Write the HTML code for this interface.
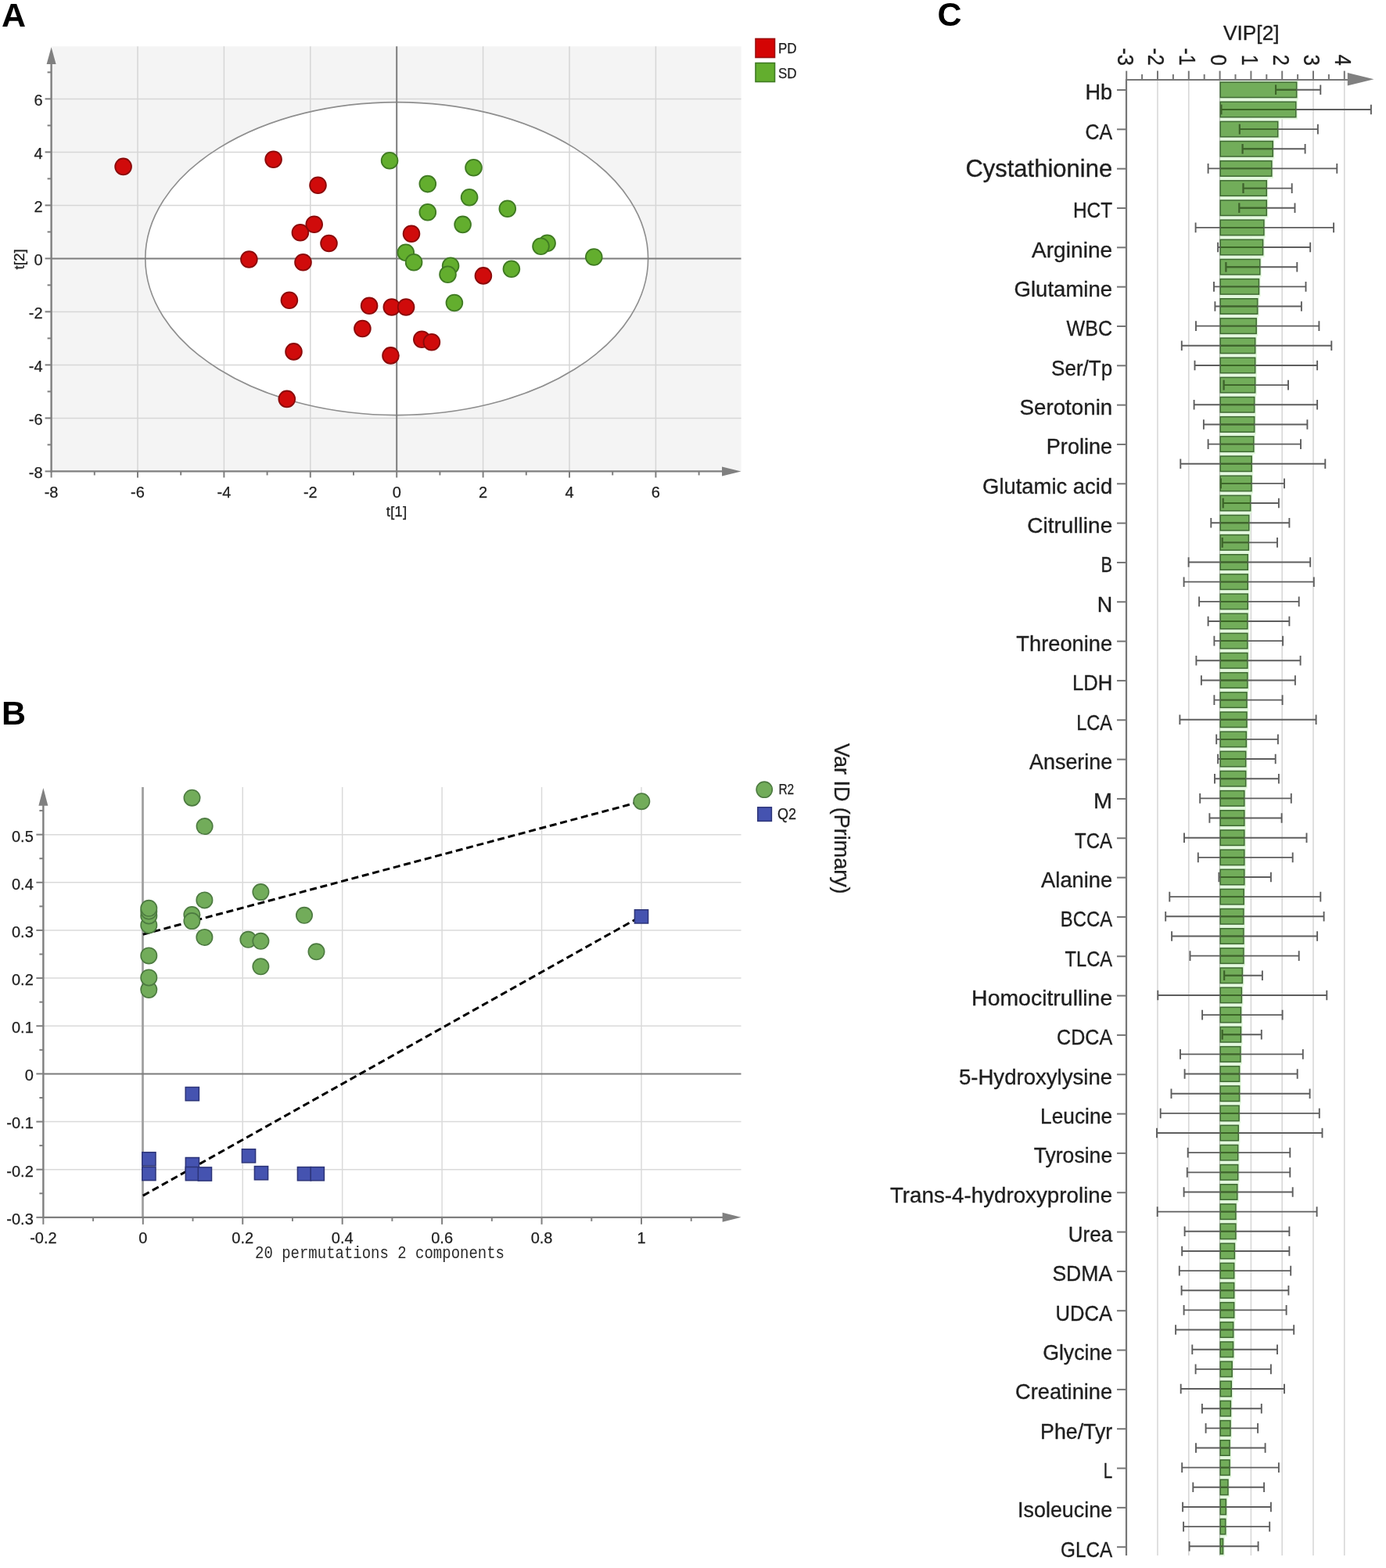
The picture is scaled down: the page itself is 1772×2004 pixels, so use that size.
<!DOCTYPE html>
<html><head><meta charset="utf-8"><title>Figure</title>
<style>
html,body{margin:0;padding:0;background:#fff;}
body{width:1772px;height:2004px;overflow:hidden;}
svg{display:block;}
</style></head>
<body>
<svg width="1772" height="2004" viewBox="0 0 1772 2004">
<rect width="1772" height="2004" fill="#fff"/>
<g id="panelA">
<rect x="65.6" y="59.3" width="881.9" height="543.1" fill="#f4f4f4"/>
<ellipse cx="507.2" cy="330.6" rx="321.4" ry="200" fill="#ffffff"/>
<line x1="176" y1="59.3" x2="176" y2="602.4" stroke="#d6d6d6" stroke-width="1.5"/>
<line x1="286.4" y1="59.3" x2="286.4" y2="602.4" stroke="#d6d6d6" stroke-width="1.5"/>
<line x1="396.8" y1="59.3" x2="396.8" y2="602.4" stroke="#d6d6d6" stroke-width="1.5"/>
<line x1="617.6" y1="59.3" x2="617.6" y2="602.4" stroke="#d6d6d6" stroke-width="1.5"/>
<line x1="728" y1="59.3" x2="728" y2="602.4" stroke="#d6d6d6" stroke-width="1.5"/>
<line x1="838.4" y1="59.3" x2="838.4" y2="602.4" stroke="#d6d6d6" stroke-width="1.5"/>
<line x1="65.6" y1="534.4" x2="947.5" y2="534.4" stroke="#d6d6d6" stroke-width="1.5"/>
<line x1="65.6" y1="466.4" x2="947.5" y2="466.4" stroke="#d6d6d6" stroke-width="1.5"/>
<line x1="65.6" y1="398.4" x2="947.5" y2="398.4" stroke="#d6d6d6" stroke-width="1.5"/>
<line x1="65.6" y1="262.4" x2="947.5" y2="262.4" stroke="#d6d6d6" stroke-width="1.5"/>
<line x1="65.6" y1="194.4" x2="947.5" y2="194.4" stroke="#d6d6d6" stroke-width="1.5"/>
<line x1="65.6" y1="126.4" x2="947.5" y2="126.4" stroke="#d6d6d6" stroke-width="1.5"/>
<ellipse cx="507.2" cy="330.6" rx="321.4" ry="200" fill="none" stroke="#8e8e8e" stroke-width="1.6"/>
<line x1="507.2" y1="59.3" x2="507.2" y2="602.4" stroke="#7c7c7c" stroke-width="2"/>
<line x1="65.6" y1="330.4" x2="947.5" y2="330.4" stroke="#7c7c7c" stroke-width="2"/>
<line x1="65.6" y1="603.4" x2="65.6" y2="75" stroke="#7f7f7f" stroke-width="2.4"/>
<line x1="64.6" y1="602.4" x2="930" y2="602.4" stroke="#7f7f7f" stroke-width="2.4"/>
<polygon points="65.6,60.3 59.6,82 71.6,82" fill="#808080"/>
<polygon points="947.5,602.4 923,596.4 923,608.4" fill="#808080"/>
<line x1="57.6" y1="602.4" x2="65.6" y2="602.4" stroke="#7f7f7f" stroke-width="2"/>
<line x1="65.6" y1="602.4" x2="65.6" y2="610.4" stroke="#7f7f7f" stroke-width="2"/>
<line x1="60.6" y1="568.4" x2="65.6" y2="568.4" stroke="#7f7f7f" stroke-width="2"/>
<line x1="120.8" y1="602.4" x2="120.8" y2="607.4" stroke="#7f7f7f" stroke-width="2"/>
<line x1="57.6" y1="534.4" x2="65.6" y2="534.4" stroke="#7f7f7f" stroke-width="2"/>
<line x1="176" y1="602.4" x2="176" y2="610.4" stroke="#7f7f7f" stroke-width="2"/>
<line x1="60.6" y1="500.4" x2="65.6" y2="500.4" stroke="#7f7f7f" stroke-width="2"/>
<line x1="231.2" y1="602.4" x2="231.2" y2="607.4" stroke="#7f7f7f" stroke-width="2"/>
<line x1="57.6" y1="466.4" x2="65.6" y2="466.4" stroke="#7f7f7f" stroke-width="2"/>
<line x1="286.4" y1="602.4" x2="286.4" y2="610.4" stroke="#7f7f7f" stroke-width="2"/>
<line x1="60.6" y1="432.4" x2="65.6" y2="432.4" stroke="#7f7f7f" stroke-width="2"/>
<line x1="341.6" y1="602.4" x2="341.6" y2="607.4" stroke="#7f7f7f" stroke-width="2"/>
<line x1="57.6" y1="398.4" x2="65.6" y2="398.4" stroke="#7f7f7f" stroke-width="2"/>
<line x1="396.8" y1="602.4" x2="396.8" y2="610.4" stroke="#7f7f7f" stroke-width="2"/>
<line x1="60.6" y1="364.4" x2="65.6" y2="364.4" stroke="#7f7f7f" stroke-width="2"/>
<line x1="452" y1="602.4" x2="452" y2="607.4" stroke="#7f7f7f" stroke-width="2"/>
<line x1="57.6" y1="330.4" x2="65.6" y2="330.4" stroke="#7f7f7f" stroke-width="2"/>
<line x1="507.2" y1="602.4" x2="507.2" y2="610.4" stroke="#7f7f7f" stroke-width="2"/>
<line x1="60.6" y1="296.4" x2="65.6" y2="296.4" stroke="#7f7f7f" stroke-width="2"/>
<line x1="562.4" y1="602.4" x2="562.4" y2="607.4" stroke="#7f7f7f" stroke-width="2"/>
<line x1="57.6" y1="262.4" x2="65.6" y2="262.4" stroke="#7f7f7f" stroke-width="2"/>
<line x1="617.6" y1="602.4" x2="617.6" y2="610.4" stroke="#7f7f7f" stroke-width="2"/>
<line x1="60.6" y1="228.4" x2="65.6" y2="228.4" stroke="#7f7f7f" stroke-width="2"/>
<line x1="672.8" y1="602.4" x2="672.8" y2="607.4" stroke="#7f7f7f" stroke-width="2"/>
<line x1="57.6" y1="194.4" x2="65.6" y2="194.4" stroke="#7f7f7f" stroke-width="2"/>
<line x1="728" y1="602.4" x2="728" y2="610.4" stroke="#7f7f7f" stroke-width="2"/>
<line x1="60.6" y1="160.4" x2="65.6" y2="160.4" stroke="#7f7f7f" stroke-width="2"/>
<line x1="783.2" y1="602.4" x2="783.2" y2="607.4" stroke="#7f7f7f" stroke-width="2"/>
<line x1="57.6" y1="126.4" x2="65.6" y2="126.4" stroke="#7f7f7f" stroke-width="2"/>
<line x1="838.4" y1="602.4" x2="838.4" y2="610.4" stroke="#7f7f7f" stroke-width="2"/>
<line x1="60.6" y1="92.4" x2="65.6" y2="92.4" stroke="#7f7f7f" stroke-width="2"/>
<line x1="893.6" y1="602.4" x2="893.6" y2="607.4" stroke="#7f7f7f" stroke-width="2"/>
<g font-family='"Liberation Sans", Arial, sans-serif' font-size="19" fill="#1e1e1e" stroke="#1e1e1e" stroke-width="0.25">
<text x="54.6" y="611" text-anchor="end" font-size="20">-8</text>
<text x="65.6" y="635.8" text-anchor="middle" font-size="20">-8</text>
<text x="54.6" y="543" text-anchor="end" font-size="20">-6</text>
<text x="176" y="635.8" text-anchor="middle" font-size="20">-6</text>
<text x="54.6" y="475" text-anchor="end" font-size="20">-4</text>
<text x="286.4" y="635.8" text-anchor="middle" font-size="20">-4</text>
<text x="54.6" y="407" text-anchor="end" font-size="20">-2</text>
<text x="396.8" y="635.8" text-anchor="middle" font-size="20">-2</text>
<text x="54.6" y="339" text-anchor="end" font-size="20">0</text>
<text x="507.2" y="635.8" text-anchor="middle" font-size="20">0</text>
<text x="54.6" y="271" text-anchor="end" font-size="20">2</text>
<text x="617.6" y="635.8" text-anchor="middle" font-size="20">2</text>
<text x="54.6" y="203" text-anchor="end" font-size="20">4</text>
<text x="728" y="635.8" text-anchor="middle" font-size="20">4</text>
<text x="54.6" y="135" text-anchor="end" font-size="20">6</text>
<text x="838.4" y="635.8" text-anchor="middle" font-size="20">6</text>
<text x="507" y="659.5" text-anchor="middle">t[1]</text>
<text transform="translate(31,331.3) rotate(-90)" text-anchor="middle">t[2]</text>
</g>
<circle cx="157.6" cy="212.9" r="10.4" fill="#d00b0b" stroke="#8a0a0a" stroke-width="1.8"/>
<circle cx="349.6" cy="203.8" r="10.4" fill="#d00b0b" stroke="#8a0a0a" stroke-width="1.8"/>
<circle cx="406.5" cy="236.8" r="10.4" fill="#d00b0b" stroke="#8a0a0a" stroke-width="1.8"/>
<circle cx="383.9" cy="297.2" r="10.4" fill="#d00b0b" stroke="#8a0a0a" stroke-width="1.8"/>
<circle cx="401.7" cy="286.8" r="10.4" fill="#d00b0b" stroke="#8a0a0a" stroke-width="1.8"/>
<circle cx="420.5" cy="311" r="10.4" fill="#d00b0b" stroke="#8a0a0a" stroke-width="1.8"/>
<circle cx="318.4" cy="331.5" r="10.4" fill="#d00b0b" stroke="#8a0a0a" stroke-width="1.8"/>
<circle cx="387.5" cy="335.3" r="10.4" fill="#d00b0b" stroke="#8a0a0a" stroke-width="1.8"/>
<circle cx="369.9" cy="383.8" r="10.4" fill="#d00b0b" stroke="#8a0a0a" stroke-width="1.8"/>
<circle cx="472.1" cy="390.7" r="10.4" fill="#d00b0b" stroke="#8a0a0a" stroke-width="1.8"/>
<circle cx="500.8" cy="392.5" r="10.4" fill="#d00b0b" stroke="#8a0a0a" stroke-width="1.8"/>
<circle cx="519.1" cy="392.5" r="10.4" fill="#d00b0b" stroke="#8a0a0a" stroke-width="1.8"/>
<circle cx="526" cy="298.8" r="10.4" fill="#d00b0b" stroke="#8a0a0a" stroke-width="1.8"/>
<circle cx="617.9" cy="352.4" r="10.4" fill="#d00b0b" stroke="#8a0a0a" stroke-width="1.8"/>
<circle cx="463.4" cy="420" r="10.4" fill="#d00b0b" stroke="#8a0a0a" stroke-width="1.8"/>
<circle cx="539.3" cy="433.7" r="10.4" fill="#d00b0b" stroke="#8a0a0a" stroke-width="1.8"/>
<circle cx="551.9" cy="437.3" r="10.4" fill="#d00b0b" stroke="#8a0a0a" stroke-width="1.8"/>
<circle cx="375.5" cy="449.4" r="10.4" fill="#d00b0b" stroke="#8a0a0a" stroke-width="1.8"/>
<circle cx="499.5" cy="454.4" r="10.4" fill="#d00b0b" stroke="#8a0a0a" stroke-width="1.8"/>
<circle cx="366.8" cy="509.9" r="10.4" fill="#d00b0b" stroke="#8a0a0a" stroke-width="1.8"/>
<circle cx="498.1" cy="205.3" r="10.4" fill="#63ae2e" stroke="#3f7a22" stroke-width="1.8"/>
<circle cx="605.5" cy="214.3" r="10.4" fill="#63ae2e" stroke="#3f7a22" stroke-width="1.8"/>
<circle cx="546.8" cy="235.1" r="10.4" fill="#63ae2e" stroke="#3f7a22" stroke-width="1.8"/>
<circle cx="600.1" cy="252.2" r="10.4" fill="#63ae2e" stroke="#3f7a22" stroke-width="1.8"/>
<circle cx="648.8" cy="266.8" r="10.4" fill="#63ae2e" stroke="#3f7a22" stroke-width="1.8"/>
<circle cx="546.8" cy="271.2" r="10.4" fill="#63ae2e" stroke="#3f7a22" stroke-width="1.8"/>
<circle cx="591.6" cy="286.9" r="10.4" fill="#63ae2e" stroke="#3f7a22" stroke-width="1.8"/>
<circle cx="699.6" cy="310.8" r="10.4" fill="#63ae2e" stroke="#3f7a22" stroke-width="1.8"/>
<circle cx="691.5" cy="314.7" r="10.4" fill="#63ae2e" stroke="#3f7a22" stroke-width="1.8"/>
<circle cx="759.3" cy="328.5" r="10.4" fill="#63ae2e" stroke="#3f7a22" stroke-width="1.8"/>
<circle cx="518.8" cy="322.7" r="10.4" fill="#63ae2e" stroke="#3f7a22" stroke-width="1.8"/>
<circle cx="529.1" cy="335.3" r="10.4" fill="#63ae2e" stroke="#3f7a22" stroke-width="1.8"/>
<circle cx="576.1" cy="339.8" r="10.4" fill="#63ae2e" stroke="#3f7a22" stroke-width="1.8"/>
<circle cx="572.5" cy="350.7" r="10.4" fill="#63ae2e" stroke="#3f7a22" stroke-width="1.8"/>
<circle cx="653.9" cy="343.7" r="10.4" fill="#63ae2e" stroke="#3f7a22" stroke-width="1.8"/>
<circle cx="580.9" cy="387" r="10.4" fill="#63ae2e" stroke="#3f7a22" stroke-width="1.8"/>
<rect x="966" y="49.5" width="24.5" height="24" fill="#d40404" stroke="#9a1010" stroke-width="1.6"/>
<rect x="966" y="80.5" width="24.5" height="24" fill="#63ae2e" stroke="#3f7a22" stroke-width="1.6"/>
<g font-family='"Liberation Sans", Arial, sans-serif' font-size="18.5" fill="#1e1e1e" stroke="#1e1e1e" stroke-width="0.25">
<text x="995" y="68.4" textLength="23.6" lengthAdjust="spacingAndGlyphs">PD</text>
<text x="995" y="100" textLength="23.6" lengthAdjust="spacingAndGlyphs">SD</text>
</g>
</g>
<g id="panelB">
<line x1="310.24" y1="1006" x2="310.24" y2="1555.85" stroke="#dadada" stroke-width="1.5"/>
<line x1="437.68" y1="1006" x2="437.68" y2="1555.85" stroke="#dadada" stroke-width="1.5"/>
<line x1="565.12" y1="1006" x2="565.12" y2="1555.85" stroke="#dadada" stroke-width="1.5"/>
<line x1="692.56" y1="1006" x2="692.56" y2="1555.85" stroke="#dadada" stroke-width="1.5"/>
<line x1="820" y1="1006" x2="820" y2="1555.85" stroke="#dadada" stroke-width="1.5"/>
<line x1="55.36" y1="1494.7" x2="947.5" y2="1494.7" stroke="#dadada" stroke-width="1.5"/>
<line x1="55.36" y1="1433.55" x2="947.5" y2="1433.55" stroke="#dadada" stroke-width="1.5"/>
<line x1="55.36" y1="1311.25" x2="947.5" y2="1311.25" stroke="#dadada" stroke-width="1.5"/>
<line x1="55.36" y1="1250.1" x2="947.5" y2="1250.1" stroke="#dadada" stroke-width="1.5"/>
<line x1="55.36" y1="1188.95" x2="947.5" y2="1188.95" stroke="#dadada" stroke-width="1.5"/>
<line x1="55.36" y1="1127.8" x2="947.5" y2="1127.8" stroke="#dadada" stroke-width="1.5"/>
<line x1="55.36" y1="1066.65" x2="947.5" y2="1066.65" stroke="#dadada" stroke-width="1.5"/>
<line x1="182.5" y1="1006" x2="182.5" y2="1555.85" stroke="#a0a0a0" stroke-width="2.8"/>
<line x1="55.36" y1="1372.4" x2="947.5" y2="1372.4" stroke="#7c7c7c" stroke-width="2"/>
<line x1="55.36" y1="1556.85" x2="55.36" y2="1022" stroke="#7f7f7f" stroke-width="2.4"/>
<line x1="54.36" y1="1555.85" x2="930" y2="1555.85" stroke="#7f7f7f" stroke-width="2.4"/>
<polygon points="55.36,1007 49.36,1029.8 61.36,1029.8" fill="#808080"/>
<polygon points="947.5,1555.85 923.6,1549.85 923.6,1561.85" fill="#808080"/>
<line x1="46.36" y1="1555.85" x2="55.36" y2="1555.85" stroke="#7f7f7f" stroke-width="2"/>
<line x1="50.36" y1="1525.28" x2="55.36" y2="1525.28" stroke="#7f7f7f" stroke-width="2"/>
<line x1="46.36" y1="1494.7" x2="55.36" y2="1494.7" stroke="#7f7f7f" stroke-width="2"/>
<line x1="50.36" y1="1464.12" x2="55.36" y2="1464.12" stroke="#7f7f7f" stroke-width="2"/>
<line x1="46.36" y1="1433.55" x2="55.36" y2="1433.55" stroke="#7f7f7f" stroke-width="2"/>
<line x1="50.36" y1="1402.98" x2="55.36" y2="1402.98" stroke="#7f7f7f" stroke-width="2"/>
<line x1="46.36" y1="1372.4" x2="55.36" y2="1372.4" stroke="#7f7f7f" stroke-width="2"/>
<line x1="50.36" y1="1341.83" x2="55.36" y2="1341.83" stroke="#7f7f7f" stroke-width="2"/>
<line x1="46.36" y1="1311.25" x2="55.36" y2="1311.25" stroke="#7f7f7f" stroke-width="2"/>
<line x1="50.36" y1="1280.68" x2="55.36" y2="1280.68" stroke="#7f7f7f" stroke-width="2"/>
<line x1="46.36" y1="1250.1" x2="55.36" y2="1250.1" stroke="#7f7f7f" stroke-width="2"/>
<line x1="50.36" y1="1219.53" x2="55.36" y2="1219.53" stroke="#7f7f7f" stroke-width="2"/>
<line x1="46.36" y1="1188.95" x2="55.36" y2="1188.95" stroke="#7f7f7f" stroke-width="2"/>
<line x1="50.36" y1="1158.38" x2="55.36" y2="1158.38" stroke="#7f7f7f" stroke-width="2"/>
<line x1="46.36" y1="1127.8" x2="55.36" y2="1127.8" stroke="#7f7f7f" stroke-width="2"/>
<line x1="50.36" y1="1097.23" x2="55.36" y2="1097.23" stroke="#7f7f7f" stroke-width="2"/>
<line x1="46.36" y1="1066.65" x2="55.36" y2="1066.65" stroke="#7f7f7f" stroke-width="2"/>
<line x1="50.36" y1="1036.08" x2="55.36" y2="1036.08" stroke="#7f7f7f" stroke-width="2"/>
<line x1="55.36" y1="1555.85" x2="55.36" y2="1564.85" stroke="#7f7f7f" stroke-width="2"/>
<line x1="119.08" y1="1555.85" x2="119.08" y2="1560.85" stroke="#7f7f7f" stroke-width="2"/>
<line x1="182.8" y1="1555.85" x2="182.8" y2="1564.85" stroke="#7f7f7f" stroke-width="2"/>
<line x1="246.52" y1="1555.85" x2="246.52" y2="1560.85" stroke="#7f7f7f" stroke-width="2"/>
<line x1="310.24" y1="1555.85" x2="310.24" y2="1564.85" stroke="#7f7f7f" stroke-width="2"/>
<line x1="373.96" y1="1555.85" x2="373.96" y2="1560.85" stroke="#7f7f7f" stroke-width="2"/>
<line x1="437.68" y1="1555.85" x2="437.68" y2="1564.85" stroke="#7f7f7f" stroke-width="2"/>
<line x1="501.4" y1="1555.85" x2="501.4" y2="1560.85" stroke="#7f7f7f" stroke-width="2"/>
<line x1="565.12" y1="1555.85" x2="565.12" y2="1564.85" stroke="#7f7f7f" stroke-width="2"/>
<line x1="628.84" y1="1555.85" x2="628.84" y2="1560.85" stroke="#7f7f7f" stroke-width="2"/>
<line x1="692.56" y1="1555.85" x2="692.56" y2="1564.85" stroke="#7f7f7f" stroke-width="2"/>
<line x1="756.28" y1="1555.85" x2="756.28" y2="1560.85" stroke="#7f7f7f" stroke-width="2"/>
<line x1="820" y1="1555.85" x2="820" y2="1564.85" stroke="#7f7f7f" stroke-width="2"/>
<line x1="883.72" y1="1555.85" x2="883.72" y2="1560.85" stroke="#7f7f7f" stroke-width="2"/>
<g font-family='"Liberation Sans", Arial, sans-serif' font-size="18.5" fill="#1e1e1e" stroke="#1e1e1e" stroke-width="0.25">
<text x="42.8" y="1564.75" text-anchor="end" font-size="20">-0.3</text>
<text x="42.8" y="1503.6" text-anchor="end" font-size="20">-0.2</text>
<text x="42.8" y="1442.45" text-anchor="end" font-size="20">-0.1</text>
<text x="42.8" y="1381.3" text-anchor="end" font-size="20">0</text>
<text x="42.8" y="1320.15" text-anchor="end" font-size="20">0.1</text>
<text x="42.8" y="1259" text-anchor="end" font-size="20">0.2</text>
<text x="42.8" y="1197.85" text-anchor="end" font-size="20">0.3</text>
<text x="42.8" y="1136.7" text-anchor="end" font-size="20">0.4</text>
<text x="42.8" y="1075.55" text-anchor="end" font-size="20">0.5</text>
<text x="55.36" y="1588.8" text-anchor="middle" font-size="20">-0.2</text>
<text x="182.8" y="1588.8" text-anchor="middle" font-size="20">0</text>
<text x="310.24" y="1588.8" text-anchor="middle" font-size="20">0.2</text>
<text x="437.68" y="1588.8" text-anchor="middle" font-size="20">0.4</text>
<text x="565.12" y="1588.8" text-anchor="middle" font-size="20">0.6</text>
<text x="692.56" y="1588.8" text-anchor="middle" font-size="20">0.8</text>
<text x="820" y="1588.8" text-anchor="middle" font-size="20">1</text>
<text x="995.4" y="1015" textLength="19.8" lengthAdjust="spacingAndGlyphs">R2</text>
<text x="994" y="1047.2" font-size="19.5" textLength="24" lengthAdjust="spacingAndGlyphs">Q2</text>
</g>
<text x="326" y="1607.8" font-family='"Liberation Mono", "Courier New", monospace' font-size="21.5" fill="#2a2a2a" textLength="319" lengthAdjust="spacingAndGlyphs">20 permutations 2 components</text>
<text transform="translate(1066.5,950) rotate(90)" font-family='"Liberation Sans", Arial, sans-serif' font-size="28" fill="#1e1e1e" stroke="#1e1e1e" stroke-width="0.3" textLength="192.6" lengthAdjust="spacingAndGlyphs">Var ID (Primary)</text>
<line x1="182.8" y1="1194.2" x2="818" y2="1024.8" stroke="#000" stroke-width="3" stroke-dasharray="9 4.8"/>
<line x1="182.8" y1="1528.1" x2="818" y2="1172" stroke="#000" stroke-width="3" stroke-dasharray="9 4.8"/>
<rect x="237.2" y="1389.5" width="17.2" height="17.2" fill="#4553b0" stroke="#2c3478" stroke-width="1.5"/>
<rect x="181.8" y="1472.7" width="17.2" height="17.2" fill="#4553b0" stroke="#2c3478" stroke-width="1.5"/>
<rect x="181.8" y="1491.4" width="17.2" height="17.2" fill="#4553b0" stroke="#2c3478" stroke-width="1.5"/>
<rect x="237.3" y="1479.5" width="17.2" height="17.2" fill="#4553b0" stroke="#2c3478" stroke-width="1.5"/>
<rect x="237.3" y="1491.5" width="17.2" height="17.2" fill="#4553b0" stroke="#2c3478" stroke-width="1.5"/>
<rect x="253.3" y="1491.9" width="17.2" height="17.2" fill="#4553b0" stroke="#2c3478" stroke-width="1.5"/>
<rect x="309.4" y="1468.7" width="17.2" height="17.2" fill="#4553b0" stroke="#2c3478" stroke-width="1.5"/>
<rect x="325.4" y="1490.6" width="17.2" height="17.2" fill="#4553b0" stroke="#2c3478" stroke-width="1.5"/>
<rect x="380.4" y="1491.6" width="17.2" height="17.2" fill="#4553b0" stroke="#2c3478" stroke-width="1.5"/>
<rect x="397.2" y="1491.6" width="17.2" height="17.2" fill="#4553b0" stroke="#2c3478" stroke-width="1.5"/>
<rect x="811.4" y="1162.8" width="17.2" height="17.2" fill="#4553b0" stroke="#2c3478" stroke-width="1.5"/>
<circle cx="245.5" cy="1019.7" r="10.2" fill="#72ac5a" stroke="#4c7a40" stroke-width="1.6"/>
<circle cx="261.6" cy="1056.1" r="10.2" fill="#72ac5a" stroke="#4c7a40" stroke-width="1.6"/>
<circle cx="820.3" cy="1024.2" r="10.2" fill="#72ac5a" stroke="#4c7a40" stroke-width="1.6"/>
<circle cx="190.3" cy="1264.9" r="10.2" fill="#72ac5a" stroke="#4c7a40" stroke-width="1.6"/>
<circle cx="190.3" cy="1249.4" r="10.2" fill="#72ac5a" stroke="#4c7a40" stroke-width="1.6"/>
<circle cx="190.3" cy="1221.4" r="10.2" fill="#72ac5a" stroke="#4c7a40" stroke-width="1.6"/>
<circle cx="190.3" cy="1182.4" r="10.2" fill="#72ac5a" stroke="#4c7a40" stroke-width="1.6"/>
<circle cx="190.3" cy="1170.4" r="10.2" fill="#72ac5a" stroke="#4c7a40" stroke-width="1.6"/>
<circle cx="190.3" cy="1164.5" r="10.2" fill="#72ac5a" stroke="#4c7a40" stroke-width="1.6"/>
<circle cx="190.3" cy="1160.8" r="10.2" fill="#72ac5a" stroke="#4c7a40" stroke-width="1.6"/>
<circle cx="245.4" cy="1169.1" r="10.2" fill="#72ac5a" stroke="#4c7a40" stroke-width="1.6"/>
<circle cx="245.4" cy="1177.1" r="10.2" fill="#72ac5a" stroke="#4c7a40" stroke-width="1.6"/>
<circle cx="261.4" cy="1150.4" r="10.2" fill="#72ac5a" stroke="#4c7a40" stroke-width="1.6"/>
<circle cx="261.4" cy="1197.9" r="10.2" fill="#72ac5a" stroke="#4c7a40" stroke-width="1.6"/>
<circle cx="333.4" cy="1140.1" r="10.2" fill="#72ac5a" stroke="#4c7a40" stroke-width="1.6"/>
<circle cx="317.4" cy="1200.8" r="10.2" fill="#72ac5a" stroke="#4c7a40" stroke-width="1.6"/>
<circle cx="333.4" cy="1202.8" r="10.2" fill="#72ac5a" stroke="#4c7a40" stroke-width="1.6"/>
<circle cx="333.4" cy="1235.3" r="10.2" fill="#72ac5a" stroke="#4c7a40" stroke-width="1.6"/>
<circle cx="389" cy="1169.8" r="10.2" fill="#72ac5a" stroke="#4c7a40" stroke-width="1.6"/>
<circle cx="404.5" cy="1216.3" r="10.2" fill="#72ac5a" stroke="#4c7a40" stroke-width="1.6"/>
<circle cx="977.2" cy="1009.2" r="10.1" fill="#72ac5a" stroke="#4c7a40" stroke-width="1.6"/>
<rect x="968.8" y="1031.8" width="17.6" height="17.6" fill="#4553b0" stroke="#2c3478" stroke-width="1.5"/>
</g>
<g id="panelC">
<line x1="1480" y1="102" x2="1480" y2="1988" stroke="#d8d8d8" stroke-width="1.6"/>
<line x1="1519.8" y1="102" x2="1519.8" y2="1988" stroke="#d8d8d8" stroke-width="1.6"/>
<line x1="1599.4" y1="102" x2="1599.4" y2="1988" stroke="#d8d8d8" stroke-width="1.6"/>
<line x1="1639.2" y1="102" x2="1639.2" y2="1988" stroke="#d8d8d8" stroke-width="1.6"/>
<line x1="1679" y1="102" x2="1679" y2="1988" stroke="#d8d8d8" stroke-width="1.6"/>
<line x1="1718.8" y1="102" x2="1718.8" y2="1988" stroke="#d8d8d8" stroke-width="1.6"/>
<line x1="1559.6" y1="102" x2="1559.6" y2="1988" stroke="#9a9a9a" stroke-width="1.4"/>
<rect x="1559.6" y="102.2" width="100.2" height="25.2" fill="#e2f8dc"/>
<rect x="1559.6" y="127.36" width="99.3" height="25.2" fill="#e2f8dc"/>
<rect x="1559.6" y="152.51" width="76.2" height="25.2" fill="#e2f8dc"/>
<rect x="1559.6" y="177.67" width="69.8" height="25.2" fill="#e2f8dc"/>
<rect x="1559.6" y="202.82" width="68.3" height="25.2" fill="#e2f8dc"/>
<rect x="1559.6" y="227.98" width="61.8" height="25.2" fill="#e2f8dc"/>
<rect x="1559.6" y="253.13" width="61.8" height="25.2" fill="#e2f8dc"/>
<rect x="1559.6" y="278.29" width="58.4" height="25.2" fill="#e2f8dc"/>
<rect x="1559.6" y="303.44" width="57.1" height="25.2" fill="#e2f8dc"/>
<rect x="1559.6" y="328.6" width="53.3" height="25.2" fill="#e2f8dc"/>
<rect x="1559.6" y="353.75" width="52" height="25.2" fill="#e2f8dc"/>
<rect x="1559.6" y="378.91" width="50.2" height="25.2" fill="#e2f8dc"/>
<rect x="1559.6" y="404.06" width="48.7" height="25.2" fill="#e2f8dc"/>
<rect x="1559.6" y="429.21" width="47.2" height="25.2" fill="#e2f8dc"/>
<rect x="1559.6" y="454.37" width="47.2" height="25.2" fill="#e2f8dc"/>
<rect x="1559.6" y="479.53" width="47.2" height="25.2" fill="#e2f8dc"/>
<rect x="1559.6" y="504.68" width="46.2" height="25.2" fill="#e2f8dc"/>
<rect x="1559.6" y="529.83" width="46.2" height="25.2" fill="#e2f8dc"/>
<rect x="1559.6" y="554.99" width="45.3" height="25.2" fill="#e2f8dc"/>
<rect x="1559.6" y="580.14" width="42.7" height="25.2" fill="#e2f8dc"/>
<rect x="1559.6" y="605.3" width="42.5" height="25.2" fill="#e2f8dc"/>
<rect x="1559.6" y="630.45" width="41.2" height="25.2" fill="#e2f8dc"/>
<rect x="1559.6" y="655.61" width="39.3" height="25.2" fill="#e2f8dc"/>
<rect x="1559.6" y="680.76" width="38.9" height="25.2" fill="#e2f8dc"/>
<rect x="1559.6" y="705.92" width="37.8" height="25.2" fill="#e2f8dc"/>
<rect x="1559.6" y="731.07" width="37.8" height="25.2" fill="#e2f8dc"/>
<rect x="1559.6" y="756.23" width="37.8" height="25.2" fill="#e2f8dc"/>
<rect x="1559.6" y="781.38" width="37.4" height="25.2" fill="#e2f8dc"/>
<rect x="1559.6" y="806.54" width="37.4" height="25.2" fill="#e2f8dc"/>
<rect x="1559.6" y="831.69" width="37.4" height="25.2" fill="#e2f8dc"/>
<rect x="1559.6" y="856.85" width="37.4" height="25.2" fill="#e2f8dc"/>
<rect x="1559.6" y="882" width="36.5" height="25.2" fill="#e2f8dc"/>
<rect x="1559.6" y="907.16" width="36.5" height="25.2" fill="#e2f8dc"/>
<rect x="1559.6" y="932.31" width="35.9" height="25.2" fill="#e2f8dc"/>
<rect x="1559.6" y="957.47" width="35.2" height="25.2" fill="#e2f8dc"/>
<rect x="1559.6" y="982.62" width="35.2" height="25.2" fill="#e2f8dc"/>
<rect x="1559.6" y="1007.78" width="33.3" height="25.2" fill="#e2f8dc"/>
<rect x="1559.6" y="1032.93" width="33.3" height="25.2" fill="#e2f8dc"/>
<rect x="1559.6" y="1058.09" width="33.3" height="25.2" fill="#e2f8dc"/>
<rect x="1559.6" y="1083.25" width="33.3" height="25.2" fill="#e2f8dc"/>
<rect x="1559.6" y="1108.4" width="33.3" height="25.2" fill="#e2f8dc"/>
<rect x="1559.6" y="1133.56" width="32.7" height="25.2" fill="#e2f8dc"/>
<rect x="1559.6" y="1158.71" width="32.4" height="25.2" fill="#e2f8dc"/>
<rect x="1559.6" y="1183.87" width="32.4" height="25.2" fill="#e2f8dc"/>
<rect x="1559.6" y="1209.02" width="32.4" height="25.2" fill="#e2f8dc"/>
<rect x="1559.6" y="1234.18" width="30.9" height="25.2" fill="#e2f8dc"/>
<rect x="1559.6" y="1259.33" width="29.9" height="25.2" fill="#e2f8dc"/>
<rect x="1559.6" y="1284.49" width="29" height="25.2" fill="#e2f8dc"/>
<rect x="1559.6" y="1309.64" width="29" height="25.2" fill="#e2f8dc"/>
<rect x="1559.6" y="1334.8" width="28.4" height="25.2" fill="#e2f8dc"/>
<rect x="1559.6" y="1359.95" width="27.1" height="25.2" fill="#e2f8dc"/>
<rect x="1559.6" y="1385.11" width="27.1" height="25.2" fill="#e2f8dc"/>
<rect x="1559.6" y="1410.26" width="26.6" height="25.2" fill="#e2f8dc"/>
<rect x="1559.6" y="1435.42" width="25.8" height="25.2" fill="#e2f8dc"/>
<rect x="1559.6" y="1460.57" width="25.2" height="25.2" fill="#e2f8dc"/>
<rect x="1559.6" y="1485.73" width="25.2" height="25.2" fill="#e2f8dc"/>
<rect x="1559.6" y="1510.88" width="24.3" height="25.2" fill="#e2f8dc"/>
<rect x="1559.6" y="1536.04" width="22.4" height="25.2" fill="#e2f8dc"/>
<rect x="1559.6" y="1561.19" width="22.4" height="25.2" fill="#e2f8dc"/>
<rect x="1559.6" y="1586.35" width="20.9" height="25.2" fill="#e2f8dc"/>
<rect x="1559.6" y="1611.5" width="20.2" height="25.2" fill="#e2f8dc"/>
<rect x="1559.6" y="1636.66" width="20.2" height="25.2" fill="#e2f8dc"/>
<rect x="1559.6" y="1661.81" width="20.2" height="25.2" fill="#e2f8dc"/>
<rect x="1559.6" y="1686.97" width="19.2" height="25.2" fill="#e2f8dc"/>
<rect x="1559.6" y="1712.12" width="19.1" height="25.2" fill="#e2f8dc"/>
<rect x="1559.6" y="1737.28" width="17.7" height="25.2" fill="#e2f8dc"/>
<rect x="1559.6" y="1762.43" width="16.8" height="25.2" fill="#e2f8dc"/>
<rect x="1559.6" y="1787.59" width="15.9" height="25.2" fill="#e2f8dc"/>
<rect x="1559.6" y="1812.74" width="15.5" height="25.2" fill="#e2f8dc"/>
<rect x="1559.6" y="1837.9" width="14.6" height="25.2" fill="#e2f8dc"/>
<rect x="1559.6" y="1863.05" width="14.6" height="25.2" fill="#e2f8dc"/>
<rect x="1559.6" y="1888.21" width="12.5" height="25.2" fill="#e2f8dc"/>
<rect x="1559.6" y="1913.36" width="9.9" height="25.2" fill="#e2f8dc"/>
<rect x="1559.6" y="1938.52" width="9.3" height="25.2" fill="#e2f8dc"/>
<rect x="1559.6" y="1963.67" width="6.1" height="25.2" fill="#e2f8dc"/>
<rect x="1560.2" y="105.05" width="97.5" height="19.5" fill="#72ad5a" stroke="#3f6a33" stroke-width="1.5"/>
<rect x="1560.2" y="130.21" width="96.6" height="19.5" fill="#72ad5a" stroke="#3f6a33" stroke-width="1.5"/>
<rect x="1560.2" y="155.36" width="73.5" height="19.5" fill="#72ad5a" stroke="#3f6a33" stroke-width="1.5"/>
<rect x="1560.2" y="180.52" width="67.1" height="19.5" fill="#72ad5a" stroke="#3f6a33" stroke-width="1.5"/>
<rect x="1560.2" y="205.67" width="65.6" height="19.5" fill="#72ad5a" stroke="#3f6a33" stroke-width="1.5"/>
<rect x="1560.2" y="230.83" width="59.1" height="19.5" fill="#72ad5a" stroke="#3f6a33" stroke-width="1.5"/>
<rect x="1560.2" y="255.98" width="59.1" height="19.5" fill="#72ad5a" stroke="#3f6a33" stroke-width="1.5"/>
<rect x="1560.2" y="281.13" width="55.7" height="19.5" fill="#72ad5a" stroke="#3f6a33" stroke-width="1.5"/>
<rect x="1560.2" y="306.29" width="54.4" height="19.5" fill="#72ad5a" stroke="#3f6a33" stroke-width="1.5"/>
<rect x="1560.2" y="331.44" width="50.6" height="19.5" fill="#72ad5a" stroke="#3f6a33" stroke-width="1.5"/>
<rect x="1560.2" y="356.6" width="49.3" height="19.5" fill="#72ad5a" stroke="#3f6a33" stroke-width="1.5"/>
<rect x="1560.2" y="381.75" width="47.5" height="19.5" fill="#72ad5a" stroke="#3f6a33" stroke-width="1.5"/>
<rect x="1560.2" y="406.91" width="46" height="19.5" fill="#72ad5a" stroke="#3f6a33" stroke-width="1.5"/>
<rect x="1560.2" y="432.06" width="44.5" height="19.5" fill="#72ad5a" stroke="#3f6a33" stroke-width="1.5"/>
<rect x="1560.2" y="457.22" width="44.5" height="19.5" fill="#72ad5a" stroke="#3f6a33" stroke-width="1.5"/>
<rect x="1560.2" y="482.38" width="44.5" height="19.5" fill="#72ad5a" stroke="#3f6a33" stroke-width="1.5"/>
<rect x="1560.2" y="507.53" width="43.5" height="19.5" fill="#72ad5a" stroke="#3f6a33" stroke-width="1.5"/>
<rect x="1560.2" y="532.68" width="43.5" height="19.5" fill="#72ad5a" stroke="#3f6a33" stroke-width="1.5"/>
<rect x="1560.2" y="557.84" width="42.6" height="19.5" fill="#72ad5a" stroke="#3f6a33" stroke-width="1.5"/>
<rect x="1560.2" y="583" width="40" height="19.5" fill="#72ad5a" stroke="#3f6a33" stroke-width="1.5"/>
<rect x="1560.2" y="608.15" width="39.8" height="19.5" fill="#72ad5a" stroke="#3f6a33" stroke-width="1.5"/>
<rect x="1560.2" y="633.3" width="38.5" height="19.5" fill="#72ad5a" stroke="#3f6a33" stroke-width="1.5"/>
<rect x="1560.2" y="658.46" width="36.6" height="19.5" fill="#72ad5a" stroke="#3f6a33" stroke-width="1.5"/>
<rect x="1560.2" y="683.62" width="36.2" height="19.5" fill="#72ad5a" stroke="#3f6a33" stroke-width="1.5"/>
<rect x="1560.2" y="708.77" width="35.1" height="19.5" fill="#72ad5a" stroke="#3f6a33" stroke-width="1.5"/>
<rect x="1560.2" y="733.92" width="35.1" height="19.5" fill="#72ad5a" stroke="#3f6a33" stroke-width="1.5"/>
<rect x="1560.2" y="759.08" width="35.1" height="19.5" fill="#72ad5a" stroke="#3f6a33" stroke-width="1.5"/>
<rect x="1560.2" y="784.24" width="34.7" height="19.5" fill="#72ad5a" stroke="#3f6a33" stroke-width="1.5"/>
<rect x="1560.2" y="809.39" width="34.7" height="19.5" fill="#72ad5a" stroke="#3f6a33" stroke-width="1.5"/>
<rect x="1560.2" y="834.54" width="34.7" height="19.5" fill="#72ad5a" stroke="#3f6a33" stroke-width="1.5"/>
<rect x="1560.2" y="859.7" width="34.7" height="19.5" fill="#72ad5a" stroke="#3f6a33" stroke-width="1.5"/>
<rect x="1560.2" y="884.86" width="33.8" height="19.5" fill="#72ad5a" stroke="#3f6a33" stroke-width="1.5"/>
<rect x="1560.2" y="910.01" width="33.8" height="19.5" fill="#72ad5a" stroke="#3f6a33" stroke-width="1.5"/>
<rect x="1560.2" y="935.16" width="33.2" height="19.5" fill="#72ad5a" stroke="#3f6a33" stroke-width="1.5"/>
<rect x="1560.2" y="960.32" width="32.5" height="19.5" fill="#72ad5a" stroke="#3f6a33" stroke-width="1.5"/>
<rect x="1560.2" y="985.48" width="32.5" height="19.5" fill="#72ad5a" stroke="#3f6a33" stroke-width="1.5"/>
<rect x="1560.2" y="1010.63" width="30.6" height="19.5" fill="#72ad5a" stroke="#3f6a33" stroke-width="1.5"/>
<rect x="1560.2" y="1035.79" width="30.6" height="19.5" fill="#72ad5a" stroke="#3f6a33" stroke-width="1.5"/>
<rect x="1560.2" y="1060.94" width="30.6" height="19.5" fill="#72ad5a" stroke="#3f6a33" stroke-width="1.5"/>
<rect x="1560.2" y="1086.1" width="30.6" height="19.5" fill="#72ad5a" stroke="#3f6a33" stroke-width="1.5"/>
<rect x="1560.2" y="1111.25" width="30.6" height="19.5" fill="#72ad5a" stroke="#3f6a33" stroke-width="1.5"/>
<rect x="1560.2" y="1136.41" width="30" height="19.5" fill="#72ad5a" stroke="#3f6a33" stroke-width="1.5"/>
<rect x="1560.2" y="1161.56" width="29.7" height="19.5" fill="#72ad5a" stroke="#3f6a33" stroke-width="1.5"/>
<rect x="1560.2" y="1186.72" width="29.7" height="19.5" fill="#72ad5a" stroke="#3f6a33" stroke-width="1.5"/>
<rect x="1560.2" y="1211.87" width="29.7" height="19.5" fill="#72ad5a" stroke="#3f6a33" stroke-width="1.5"/>
<rect x="1560.2" y="1237.03" width="28.2" height="19.5" fill="#72ad5a" stroke="#3f6a33" stroke-width="1.5"/>
<rect x="1560.2" y="1262.18" width="27.2" height="19.5" fill="#72ad5a" stroke="#3f6a33" stroke-width="1.5"/>
<rect x="1560.2" y="1287.34" width="26.3" height="19.5" fill="#72ad5a" stroke="#3f6a33" stroke-width="1.5"/>
<rect x="1560.2" y="1312.49" width="26.3" height="19.5" fill="#72ad5a" stroke="#3f6a33" stroke-width="1.5"/>
<rect x="1560.2" y="1337.65" width="25.7" height="19.5" fill="#72ad5a" stroke="#3f6a33" stroke-width="1.5"/>
<rect x="1560.2" y="1362.8" width="24.4" height="19.5" fill="#72ad5a" stroke="#3f6a33" stroke-width="1.5"/>
<rect x="1560.2" y="1387.96" width="24.4" height="19.5" fill="#72ad5a" stroke="#3f6a33" stroke-width="1.5"/>
<rect x="1560.2" y="1413.11" width="23.9" height="19.5" fill="#72ad5a" stroke="#3f6a33" stroke-width="1.5"/>
<rect x="1560.2" y="1438.27" width="23.1" height="19.5" fill="#72ad5a" stroke="#3f6a33" stroke-width="1.5"/>
<rect x="1560.2" y="1463.42" width="22.5" height="19.5" fill="#72ad5a" stroke="#3f6a33" stroke-width="1.5"/>
<rect x="1560.2" y="1488.58" width="22.5" height="19.5" fill="#72ad5a" stroke="#3f6a33" stroke-width="1.5"/>
<rect x="1560.2" y="1513.73" width="21.6" height="19.5" fill="#72ad5a" stroke="#3f6a33" stroke-width="1.5"/>
<rect x="1560.2" y="1538.89" width="19.7" height="19.5" fill="#72ad5a" stroke="#3f6a33" stroke-width="1.5"/>
<rect x="1560.2" y="1564.04" width="19.7" height="19.5" fill="#72ad5a" stroke="#3f6a33" stroke-width="1.5"/>
<rect x="1560.2" y="1589.2" width="18.2" height="19.5" fill="#72ad5a" stroke="#3f6a33" stroke-width="1.5"/>
<rect x="1560.2" y="1614.35" width="17.5" height="19.5" fill="#72ad5a" stroke="#3f6a33" stroke-width="1.5"/>
<rect x="1560.2" y="1639.51" width="17.5" height="19.5" fill="#72ad5a" stroke="#3f6a33" stroke-width="1.5"/>
<rect x="1560.2" y="1664.66" width="17.5" height="19.5" fill="#72ad5a" stroke="#3f6a33" stroke-width="1.5"/>
<rect x="1560.2" y="1689.82" width="16.5" height="19.5" fill="#72ad5a" stroke="#3f6a33" stroke-width="1.5"/>
<rect x="1560.2" y="1714.97" width="16.4" height="19.5" fill="#72ad5a" stroke="#3f6a33" stroke-width="1.5"/>
<rect x="1560.2" y="1740.13" width="15" height="19.5" fill="#72ad5a" stroke="#3f6a33" stroke-width="1.5"/>
<rect x="1560.2" y="1765.28" width="14.1" height="19.5" fill="#72ad5a" stroke="#3f6a33" stroke-width="1.5"/>
<rect x="1560.2" y="1790.44" width="13.2" height="19.5" fill="#72ad5a" stroke="#3f6a33" stroke-width="1.5"/>
<rect x="1560.2" y="1815.59" width="12.8" height="19.5" fill="#72ad5a" stroke="#3f6a33" stroke-width="1.5"/>
<rect x="1560.2" y="1840.75" width="11.9" height="19.5" fill="#72ad5a" stroke="#3f6a33" stroke-width="1.5"/>
<rect x="1560.2" y="1865.9" width="11.9" height="19.5" fill="#72ad5a" stroke="#3f6a33" stroke-width="1.5"/>
<rect x="1560.2" y="1891.06" width="9.8" height="19.5" fill="#72ad5a" stroke="#3f6a33" stroke-width="1.5"/>
<rect x="1560.2" y="1916.21" width="7.2" height="19.5" fill="#72ad5a" stroke="#3f6a33" stroke-width="1.5"/>
<rect x="1560.2" y="1941.37" width="6.6" height="19.5" fill="#72ad5a" stroke="#3f6a33" stroke-width="1.5"/>
<rect x="1560.2" y="1966.52" width="3.4" height="19.5" fill="#72ad5a" stroke="#3f6a33" stroke-width="1.5"/>
<path d="M1631.1 114.8H1688.3M1631.1 108.5V121.1M1688.3 108.5V121.1" stroke="#5e5e5e" stroke-width="1.9" fill="none"/>
<path d="M1631.1 114.8H1657.3M1631.1 108.5V121.1" stroke="#3a6624" stroke-width="1.9" fill="none"/>
<path d="M1561.4 139.96H1752.9M1561.4 133.66V146.26M1752.9 133.66V146.26" stroke="#5e5e5e" stroke-width="1.9" fill="none"/>
<path d="M1561.4 139.96H1656.4M1561.4 133.66V146.26" stroke="#3a6624" stroke-width="1.9" fill="none"/>
<path d="M1584.8 165.11H1684.9M1584.8 158.81V171.41M1684.9 158.81V171.41" stroke="#5e5e5e" stroke-width="1.9" fill="none"/>
<path d="M1584.8 165.11H1633.3M1584.8 158.81V171.41" stroke="#3a6624" stroke-width="1.9" fill="none"/>
<path d="M1588.6 190.27H1668.6M1588.6 183.97V196.57M1668.6 183.97V196.57" stroke="#5e5e5e" stroke-width="1.9" fill="none"/>
<path d="M1588.6 190.27H1626.9M1588.6 183.97V196.57" stroke="#3a6624" stroke-width="1.9" fill="none"/>
<path d="M1544.6 215.42H1709.3M1544.6 209.12V221.72M1709.3 209.12V221.72" stroke="#5e5e5e" stroke-width="1.9" fill="none"/>
<path d="M1560.6 215.42H1625.4" stroke="#3a6624" stroke-width="1.9" fill="none"/>
<path d="M1589.5 240.58H1651.7M1589.5 234.28V246.88M1651.7 234.28V246.88" stroke="#5e5e5e" stroke-width="1.9" fill="none"/>
<path d="M1589.5 240.58H1618.9M1589.5 234.28V246.88" stroke="#3a6624" stroke-width="1.9" fill="none"/>
<path d="M1584.3 265.73H1655.5M1584.3 259.43V272.03M1655.5 259.43V272.03" stroke="#5e5e5e" stroke-width="1.9" fill="none"/>
<path d="M1584.3 265.73H1618.9M1584.3 259.43V272.03" stroke="#3a6624" stroke-width="1.9" fill="none"/>
<path d="M1528.6 290.88H1705.1M1528.6 284.58V297.19M1705.1 284.58V297.19" stroke="#5e5e5e" stroke-width="1.9" fill="none"/>
<path d="M1560.6 290.88H1615.5" stroke="#3a6624" stroke-width="1.9" fill="none"/>
<path d="M1557.1 316.04H1675.2M1557.1 309.74V322.34M1675.2 309.74V322.34" stroke="#5e5e5e" stroke-width="1.9" fill="none"/>
<path d="M1560.6 316.04H1614.2" stroke="#3a6624" stroke-width="1.9" fill="none"/>
<path d="M1567.4 341.19H1658.3M1567.4 334.89V347.5M1658.3 334.89V347.5" stroke="#5e5e5e" stroke-width="1.9" fill="none"/>
<path d="M1567.4 341.19H1610.4M1567.4 334.89V347.5" stroke="#3a6624" stroke-width="1.9" fill="none"/>
<path d="M1552 366.35H1669.5M1552 360.05V372.65M1669.5 360.05V372.65" stroke="#5e5e5e" stroke-width="1.9" fill="none"/>
<path d="M1560.6 366.35H1609.1" stroke="#3a6624" stroke-width="1.9" fill="none"/>
<path d="M1553.4 391.5H1663.9M1553.4 385.2V397.81M1663.9 385.2V397.81" stroke="#5e5e5e" stroke-width="1.9" fill="none"/>
<path d="M1560.6 391.5H1607.3" stroke="#3a6624" stroke-width="1.9" fill="none"/>
<path d="M1529 416.66H1686.4M1529 410.36V422.96M1686.4 410.36V422.96" stroke="#5e5e5e" stroke-width="1.9" fill="none"/>
<path d="M1560.6 416.66H1605.8" stroke="#3a6624" stroke-width="1.9" fill="none"/>
<path d="M1510.8 441.81H1702.3M1510.8 435.51V448.11M1702.3 435.51V448.11" stroke="#5e5e5e" stroke-width="1.9" fill="none"/>
<path d="M1560.6 441.81H1604.3" stroke="#3a6624" stroke-width="1.9" fill="none"/>
<path d="M1527.5 466.97H1684.1M1527.5 460.67V473.27M1684.1 460.67V473.27" stroke="#5e5e5e" stroke-width="1.9" fill="none"/>
<path d="M1560.6 466.97H1604.3" stroke="#3a6624" stroke-width="1.9" fill="none"/>
<path d="M1564.6 492.12H1647M1564.6 485.82V498.43M1647 485.82V498.43" stroke="#5e5e5e" stroke-width="1.9" fill="none"/>
<path d="M1564.6 492.12H1604.3M1564.6 485.82V498.43" stroke="#3a6624" stroke-width="1.9" fill="none"/>
<path d="M1526.6 517.28H1684.1M1526.6 510.98V523.58M1684.1 510.98V523.58" stroke="#5e5e5e" stroke-width="1.9" fill="none"/>
<path d="M1560.6 517.28H1603.3" stroke="#3a6624" stroke-width="1.9" fill="none"/>
<path d="M1538.9 542.43H1671.4M1538.9 536.13V548.73M1671.4 536.13V548.73" stroke="#5e5e5e" stroke-width="1.9" fill="none"/>
<path d="M1560.6 542.43H1603.3" stroke="#3a6624" stroke-width="1.9" fill="none"/>
<path d="M1544.6 567.59H1663M1544.6 561.29V573.89M1663 561.29V573.89" stroke="#5e5e5e" stroke-width="1.9" fill="none"/>
<path d="M1560.6 567.59H1602.4" stroke="#3a6624" stroke-width="1.9" fill="none"/>
<path d="M1509.3 592.75H1694.3M1509.3 586.45V599.04M1694.3 586.45V599.04" stroke="#5e5e5e" stroke-width="1.9" fill="none"/>
<path d="M1560.6 592.75H1599.8" stroke="#3a6624" stroke-width="1.9" fill="none"/>
<path d="M1560.9 617.9H1642M1560.9 611.6V624.2M1642 611.6V624.2" stroke="#5e5e5e" stroke-width="1.9" fill="none"/>
<path d="M1560.9 617.9H1599.6M1560.9 611.6V624.2" stroke="#3a6624" stroke-width="1.9" fill="none"/>
<path d="M1563.7 643.05H1634.9M1563.7 636.75V649.35M1634.9 636.75V649.35" stroke="#5e5e5e" stroke-width="1.9" fill="none"/>
<path d="M1563.7 643.05H1598.3M1563.7 636.75V649.35" stroke="#3a6624" stroke-width="1.9" fill="none"/>
<path d="M1548.3 668.21H1648.4M1548.3 661.91V674.51M1648.4 661.91V674.51" stroke="#5e5e5e" stroke-width="1.9" fill="none"/>
<path d="M1560.6 668.21H1596.4" stroke="#3a6624" stroke-width="1.9" fill="none"/>
<path d="M1562.7 693.37H1633M1562.7 687.07V699.66M1633 687.07V699.66" stroke="#5e5e5e" stroke-width="1.9" fill="none"/>
<path d="M1562.7 693.37H1596M1562.7 687.07V699.66" stroke="#3a6624" stroke-width="1.9" fill="none"/>
<path d="M1519.6 718.52H1675.2M1519.6 712.22V724.82M1675.2 712.22V724.82" stroke="#5e5e5e" stroke-width="1.9" fill="none"/>
<path d="M1560.6 718.52H1594.9" stroke="#3a6624" stroke-width="1.9" fill="none"/>
<path d="M1513.6 743.67H1679.8M1513.6 737.38V749.97M1679.8 737.38V749.97" stroke="#5e5e5e" stroke-width="1.9" fill="none"/>
<path d="M1560.6 743.67H1594.9" stroke="#3a6624" stroke-width="1.9" fill="none"/>
<path d="M1533.1 768.83H1660.7M1533.1 762.53V775.13M1660.7 762.53V775.13" stroke="#5e5e5e" stroke-width="1.9" fill="none"/>
<path d="M1560.6 768.83H1594.9" stroke="#3a6624" stroke-width="1.9" fill="none"/>
<path d="M1544.6 793.99H1648.4M1544.6 787.69V800.28M1648.4 787.69V800.28" stroke="#5e5e5e" stroke-width="1.9" fill="none"/>
<path d="M1560.6 793.99H1594.5" stroke="#3a6624" stroke-width="1.9" fill="none"/>
<path d="M1552.4 819.14H1640.1M1552.4 812.84V825.44M1640.1 812.84V825.44" stroke="#5e5e5e" stroke-width="1.9" fill="none"/>
<path d="M1560.6 819.14H1594.5" stroke="#3a6624" stroke-width="1.9" fill="none"/>
<path d="M1529.4 844.29H1662.6M1529.4 838V850.59M1662.6 838V850.59" stroke="#5e5e5e" stroke-width="1.9" fill="none"/>
<path d="M1560.6 844.29H1594.5" stroke="#3a6624" stroke-width="1.9" fill="none"/>
<path d="M1535.9 869.45H1655.9M1535.9 863.15V875.75M1655.9 863.15V875.75" stroke="#5e5e5e" stroke-width="1.9" fill="none"/>
<path d="M1560.6 869.45H1594.5" stroke="#3a6624" stroke-width="1.9" fill="none"/>
<path d="M1552.4 894.61H1639.6M1552.4 888.31V900.9M1639.6 888.31V900.9" stroke="#5e5e5e" stroke-width="1.9" fill="none"/>
<path d="M1560.6 894.61H1593.6" stroke="#3a6624" stroke-width="1.9" fill="none"/>
<path d="M1508.4 919.76H1682.6M1508.4 913.46V926.06M1682.6 913.46V926.06" stroke="#5e5e5e" stroke-width="1.9" fill="none"/>
<path d="M1560.6 919.76H1593.6" stroke="#3a6624" stroke-width="1.9" fill="none"/>
<path d="M1555.2 944.91H1633.9M1555.2 938.62V951.21M1633.9 938.62V951.21" stroke="#5e5e5e" stroke-width="1.9" fill="none"/>
<path d="M1560.6 944.91H1593" stroke="#3a6624" stroke-width="1.9" fill="none"/>
<path d="M1557.1 970.07H1630.7M1557.1 963.77V976.37M1630.7 963.77V976.37" stroke="#5e5e5e" stroke-width="1.9" fill="none"/>
<path d="M1560.6 970.07H1592.3" stroke="#3a6624" stroke-width="1.9" fill="none"/>
<path d="M1553 995.23H1634.9M1553 988.93V1001.52M1634.9 988.93V1001.52" stroke="#5e5e5e" stroke-width="1.9" fill="none"/>
<path d="M1560.6 995.23H1592.3" stroke="#3a6624" stroke-width="1.9" fill="none"/>
<path d="M1534.2 1020.38H1650.8M1534.2 1014.08V1026.68M1650.8 1014.08V1026.68" stroke="#5e5e5e" stroke-width="1.9" fill="none"/>
<path d="M1560.6 1020.38H1590.4" stroke="#3a6624" stroke-width="1.9" fill="none"/>
<path d="M1546.4 1045.54H1638.6M1546.4 1039.24V1051.84M1638.6 1039.24V1051.84" stroke="#5e5e5e" stroke-width="1.9" fill="none"/>
<path d="M1560.6 1045.54H1590.4" stroke="#3a6624" stroke-width="1.9" fill="none"/>
<path d="M1514 1070.69H1670.5M1514 1064.39V1076.99M1670.5 1064.39V1076.99" stroke="#5e5e5e" stroke-width="1.9" fill="none"/>
<path d="M1560.6 1070.69H1590.4" stroke="#3a6624" stroke-width="1.9" fill="none"/>
<path d="M1531.8 1095.85H1652.7M1531.8 1089.55V1102.15M1652.7 1089.55V1102.15" stroke="#5e5e5e" stroke-width="1.9" fill="none"/>
<path d="M1560.6 1095.85H1590.4" stroke="#3a6624" stroke-width="1.9" fill="none"/>
<path d="M1558.4 1121H1624.9M1558.4 1114.7V1127.3M1624.9 1114.7V1127.3" stroke="#5e5e5e" stroke-width="1.9" fill="none"/>
<path d="M1560.6 1121H1590.4" stroke="#3a6624" stroke-width="1.9" fill="none"/>
<path d="M1495.3 1146.16H1688.3M1495.3 1139.86V1152.46M1688.3 1139.86V1152.46" stroke="#5e5e5e" stroke-width="1.9" fill="none"/>
<path d="M1560.6 1146.16H1589.8" stroke="#3a6624" stroke-width="1.9" fill="none"/>
<path d="M1490.2 1171.31H1692.6M1490.2 1165.01V1177.61M1692.6 1165.01V1177.61" stroke="#5e5e5e" stroke-width="1.9" fill="none"/>
<path d="M1560.6 1171.31H1589.5" stroke="#3a6624" stroke-width="1.9" fill="none"/>
<path d="M1498.1 1196.47H1684.1M1498.1 1190.17V1202.77M1684.1 1190.17V1202.77" stroke="#5e5e5e" stroke-width="1.9" fill="none"/>
<path d="M1560.6 1196.47H1589.5" stroke="#3a6624" stroke-width="1.9" fill="none"/>
<path d="M1521.5 1221.62H1660.7M1521.5 1215.32V1227.92M1660.7 1215.32V1227.92" stroke="#5e5e5e" stroke-width="1.9" fill="none"/>
<path d="M1560.6 1221.62H1589.5" stroke="#3a6624" stroke-width="1.9" fill="none"/>
<path d="M1565.2 1246.78H1613.9M1565.2 1240.48V1253.08M1613.9 1240.48V1253.08" stroke="#5e5e5e" stroke-width="1.9" fill="none"/>
<path d="M1565.2 1246.78H1588M1565.2 1240.48V1253.08" stroke="#3a6624" stroke-width="1.9" fill="none"/>
<path d="M1480.3 1271.93H1696.3M1480.3 1265.63V1278.23M1696.3 1265.63V1278.23" stroke="#5e5e5e" stroke-width="1.9" fill="none"/>
<path d="M1560.6 1271.93H1587" stroke="#3a6624" stroke-width="1.9" fill="none"/>
<path d="M1537.1 1297.09H1639.6M1537.1 1290.79V1303.39M1639.6 1290.79V1303.39" stroke="#5e5e5e" stroke-width="1.9" fill="none"/>
<path d="M1560.6 1297.09H1586.1" stroke="#3a6624" stroke-width="1.9" fill="none"/>
<path d="M1562.7 1322.24H1612.8M1562.7 1315.94V1328.54M1612.8 1315.94V1328.54" stroke="#5e5e5e" stroke-width="1.9" fill="none"/>
<path d="M1562.7 1322.24H1586.1M1562.7 1315.94V1328.54" stroke="#3a6624" stroke-width="1.9" fill="none"/>
<path d="M1509 1347.4H1665.8M1509 1341.1V1353.7M1665.8 1341.1V1353.7" stroke="#5e5e5e" stroke-width="1.9" fill="none"/>
<path d="M1560.6 1347.4H1585.5" stroke="#3a6624" stroke-width="1.9" fill="none"/>
<path d="M1514.6 1372.55H1658.7M1514.6 1366.25V1378.85M1658.7 1366.25V1378.85" stroke="#5e5e5e" stroke-width="1.9" fill="none"/>
<path d="M1560.6 1372.55H1584.2" stroke="#3a6624" stroke-width="1.9" fill="none"/>
<path d="M1497.5 1397.71H1674.6M1497.5 1391.41V1404.01M1674.6 1391.41V1404.01" stroke="#5e5e5e" stroke-width="1.9" fill="none"/>
<path d="M1560.6 1397.71H1584.2" stroke="#3a6624" stroke-width="1.9" fill="none"/>
<path d="M1483.7 1422.86H1686.8M1483.7 1416.56V1429.16M1686.8 1416.56V1429.16" stroke="#5e5e5e" stroke-width="1.9" fill="none"/>
<path d="M1560.6 1422.86H1583.7" stroke="#3a6624" stroke-width="1.9" fill="none"/>
<path d="M1479 1448.02H1690.5M1479 1441.72V1454.32M1690.5 1441.72V1454.32" stroke="#5e5e5e" stroke-width="1.9" fill="none"/>
<path d="M1560.6 1448.02H1582.9" stroke="#3a6624" stroke-width="1.9" fill="none"/>
<path d="M1518.7 1473.17H1649.3M1518.7 1466.87V1479.47M1649.3 1466.87V1479.47" stroke="#5e5e5e" stroke-width="1.9" fill="none"/>
<path d="M1560.6 1473.17H1582.3" stroke="#3a6624" stroke-width="1.9" fill="none"/>
<path d="M1517.8 1498.33H1649.3M1517.8 1492.03V1504.63M1649.3 1492.03V1504.63" stroke="#5e5e5e" stroke-width="1.9" fill="none"/>
<path d="M1560.6 1498.33H1582.3" stroke="#3a6624" stroke-width="1.9" fill="none"/>
<path d="M1513.6 1523.48H1652.7M1513.6 1517.18V1529.78M1652.7 1517.18V1529.78" stroke="#5e5e5e" stroke-width="1.9" fill="none"/>
<path d="M1560.6 1523.48H1581.4" stroke="#3a6624" stroke-width="1.9" fill="none"/>
<path d="M1479.7 1548.64H1683.6M1479.7 1542.34V1554.94M1683.6 1542.34V1554.94" stroke="#5e5e5e" stroke-width="1.9" fill="none"/>
<path d="M1560.6 1548.64H1579.5" stroke="#3a6624" stroke-width="1.9" fill="none"/>
<path d="M1514.6 1573.79H1648.4M1514.6 1567.49V1580.09M1648.4 1567.49V1580.09" stroke="#5e5e5e" stroke-width="1.9" fill="none"/>
<path d="M1560.6 1573.79H1579.5" stroke="#3a6624" stroke-width="1.9" fill="none"/>
<path d="M1511.2 1598.95H1648.4M1511.2 1592.65V1605.25M1648.4 1592.65V1605.25" stroke="#5e5e5e" stroke-width="1.9" fill="none"/>
<path d="M1560.6 1598.95H1578" stroke="#3a6624" stroke-width="1.9" fill="none"/>
<path d="M1507.8 1624.1H1650.2M1507.8 1617.8V1630.4M1650.2 1617.8V1630.4" stroke="#5e5e5e" stroke-width="1.9" fill="none"/>
<path d="M1560.6 1624.1H1577.3" stroke="#3a6624" stroke-width="1.9" fill="none"/>
<path d="M1510.6 1649.26H1647.4M1510.6 1642.96V1655.56M1647.4 1642.96V1655.56" stroke="#5e5e5e" stroke-width="1.9" fill="none"/>
<path d="M1560.6 1649.26H1577.3" stroke="#3a6624" stroke-width="1.9" fill="none"/>
<path d="M1513.6 1674.41H1644.6M1513.6 1668.11V1680.71M1644.6 1668.11V1680.71" stroke="#5e5e5e" stroke-width="1.9" fill="none"/>
<path d="M1560.6 1674.41H1577.3" stroke="#3a6624" stroke-width="1.9" fill="none"/>
<path d="M1503.1 1699.57H1654.2M1503.1 1693.27V1705.87M1654.2 1693.27V1705.87" stroke="#5e5e5e" stroke-width="1.9" fill="none"/>
<path d="M1560.6 1699.57H1576.3" stroke="#3a6624" stroke-width="1.9" fill="none"/>
<path d="M1524.3 1724.72H1633M1524.3 1718.42V1731.02M1633 1718.42V1731.02" stroke="#5e5e5e" stroke-width="1.9" fill="none"/>
<path d="M1560.6 1724.72H1576.2" stroke="#3a6624" stroke-width="1.9" fill="none"/>
<path d="M1528.6 1749.88H1624.9M1528.6 1743.58V1756.18M1624.9 1743.58V1756.18" stroke="#5e5e5e" stroke-width="1.9" fill="none"/>
<path d="M1560.6 1749.88H1574.8" stroke="#3a6624" stroke-width="1.9" fill="none"/>
<path d="M1509.7 1775.03H1642M1509.7 1768.73V1781.33M1642 1768.73V1781.33" stroke="#5e5e5e" stroke-width="1.9" fill="none"/>
<path d="M1560.6 1775.03H1573.9" stroke="#3a6624" stroke-width="1.9" fill="none"/>
<path d="M1536.9 1800.19H1612.8M1536.9 1793.89V1806.49M1612.8 1793.89V1806.49" stroke="#5e5e5e" stroke-width="1.9" fill="none"/>
<path d="M1560.6 1800.19H1573" stroke="#3a6624" stroke-width="1.9" fill="none"/>
<path d="M1541.6 1825.34H1608.1M1541.6 1819.04V1831.64M1608.1 1819.04V1831.64" stroke="#5e5e5e" stroke-width="1.9" fill="none"/>
<path d="M1560.6 1825.34H1572.6" stroke="#3a6624" stroke-width="1.9" fill="none"/>
<path d="M1529 1850.5H1617.6M1529 1844.2V1856.8M1617.6 1844.2V1856.8" stroke="#5e5e5e" stroke-width="1.9" fill="none"/>
<path d="M1560.6 1850.5H1571.7" stroke="#3a6624" stroke-width="1.9" fill="none"/>
<path d="M1511.2 1875.65H1634.9M1511.2 1869.35V1881.95M1634.9 1869.35V1881.95" stroke="#5e5e5e" stroke-width="1.9" fill="none"/>
<path d="M1560.6 1875.65H1571.7" stroke="#3a6624" stroke-width="1.9" fill="none"/>
<path d="M1525.3 1900.81H1616.1M1525.3 1894.51V1907.11M1616.1 1894.51V1907.11" stroke="#5e5e5e" stroke-width="1.9" fill="none"/>
<path d="M1560.6 1900.81H1569.6" stroke="#3a6624" stroke-width="1.9" fill="none"/>
<path d="M1512.1 1925.96H1624.9M1512.1 1919.66V1932.26M1624.9 1919.66V1932.26" stroke="#5e5e5e" stroke-width="1.9" fill="none"/>
<path d="M1560.6 1925.96H1567" stroke="#3a6624" stroke-width="1.9" fill="none"/>
<path d="M1513.1 1951.12H1623.2M1513.1 1944.82V1957.42M1623.2 1944.82V1957.42" stroke="#5e5e5e" stroke-width="1.9" fill="none"/>
<path d="M1560.6 1951.12H1566.4" stroke="#3a6624" stroke-width="1.9" fill="none"/>
<path d="M1520.6 1976.27H1608.6M1520.6 1969.97V1982.57M1608.6 1969.97V1982.57" stroke="#5e5e5e" stroke-width="1.9" fill="none"/>
<path d="M1560.6 1976.27H1563.2" stroke="#3a6624" stroke-width="1.9" fill="none"/>
<line x1="1440" y1="101" x2="1440" y2="1988" stroke="#767676" stroke-width="2.2"/>
<line x1="1439" y1="102" x2="1725" y2="102" stroke="#767676" stroke-width="2.2"/>
<polygon points="1756.5,101.3 1722.8,93 1722.8,109.5" fill="#808080"/>
<line x1="1440.2" y1="90.6" x2="1440.2" y2="102" stroke="#767676" stroke-width="2"/>
<line x1="1460.1" y1="95" x2="1460.1" y2="102" stroke="#767676" stroke-width="2"/>
<line x1="1480" y1="90.6" x2="1480" y2="102" stroke="#767676" stroke-width="2"/>
<line x1="1499.9" y1="95" x2="1499.9" y2="102" stroke="#767676" stroke-width="2"/>
<line x1="1519.8" y1="90.6" x2="1519.8" y2="102" stroke="#767676" stroke-width="2"/>
<line x1="1539.7" y1="95" x2="1539.7" y2="102" stroke="#767676" stroke-width="2"/>
<line x1="1559.6" y1="90.6" x2="1559.6" y2="102" stroke="#767676" stroke-width="2"/>
<line x1="1579.5" y1="95" x2="1579.5" y2="102" stroke="#767676" stroke-width="2"/>
<line x1="1599.4" y1="90.6" x2="1599.4" y2="102" stroke="#767676" stroke-width="2"/>
<line x1="1619.3" y1="95" x2="1619.3" y2="102" stroke="#767676" stroke-width="2"/>
<line x1="1639.2" y1="90.6" x2="1639.2" y2="102" stroke="#767676" stroke-width="2"/>
<line x1="1659.1" y1="95" x2="1659.1" y2="102" stroke="#767676" stroke-width="2"/>
<line x1="1679" y1="90.6" x2="1679" y2="102" stroke="#767676" stroke-width="2"/>
<line x1="1698.9" y1="95" x2="1698.9" y2="102" stroke="#767676" stroke-width="2"/>
<line x1="1718.8" y1="90.6" x2="1718.8" y2="102" stroke="#767676" stroke-width="2"/>
<line x1="1428" y1="115" x2="1440" y2="115" stroke="#767676" stroke-width="2"/>
<line x1="1428" y1="165.33" x2="1440" y2="165.33" stroke="#767676" stroke-width="2"/>
<line x1="1428" y1="215.66" x2="1440" y2="215.66" stroke="#767676" stroke-width="2"/>
<line x1="1428" y1="265.99" x2="1440" y2="265.99" stroke="#767676" stroke-width="2"/>
<line x1="1428" y1="316.32" x2="1440" y2="316.32" stroke="#767676" stroke-width="2"/>
<line x1="1428" y1="366.65" x2="1440" y2="366.65" stroke="#767676" stroke-width="2"/>
<line x1="1428" y1="416.98" x2="1440" y2="416.98" stroke="#767676" stroke-width="2"/>
<line x1="1428" y1="467.31" x2="1440" y2="467.31" stroke="#767676" stroke-width="2"/>
<line x1="1428" y1="517.64" x2="1440" y2="517.64" stroke="#767676" stroke-width="2"/>
<line x1="1428" y1="567.97" x2="1440" y2="567.97" stroke="#767676" stroke-width="2"/>
<line x1="1428" y1="618.3" x2="1440" y2="618.3" stroke="#767676" stroke-width="2"/>
<line x1="1428" y1="668.63" x2="1440" y2="668.63" stroke="#767676" stroke-width="2"/>
<line x1="1428" y1="718.96" x2="1440" y2="718.96" stroke="#767676" stroke-width="2"/>
<line x1="1428" y1="769.29" x2="1440" y2="769.29" stroke="#767676" stroke-width="2"/>
<line x1="1428" y1="819.62" x2="1440" y2="819.62" stroke="#767676" stroke-width="2"/>
<line x1="1428" y1="869.95" x2="1440" y2="869.95" stroke="#767676" stroke-width="2"/>
<line x1="1428" y1="920.28" x2="1440" y2="920.28" stroke="#767676" stroke-width="2"/>
<line x1="1428" y1="970.61" x2="1440" y2="970.61" stroke="#767676" stroke-width="2"/>
<line x1="1428" y1="1020.94" x2="1440" y2="1020.94" stroke="#767676" stroke-width="2"/>
<line x1="1428" y1="1071.27" x2="1440" y2="1071.27" stroke="#767676" stroke-width="2"/>
<line x1="1428" y1="1121.6" x2="1440" y2="1121.6" stroke="#767676" stroke-width="2"/>
<line x1="1428" y1="1171.93" x2="1440" y2="1171.93" stroke="#767676" stroke-width="2"/>
<line x1="1428" y1="1222.26" x2="1440" y2="1222.26" stroke="#767676" stroke-width="2"/>
<line x1="1428" y1="1272.59" x2="1440" y2="1272.59" stroke="#767676" stroke-width="2"/>
<line x1="1428" y1="1322.92" x2="1440" y2="1322.92" stroke="#767676" stroke-width="2"/>
<line x1="1428" y1="1373.25" x2="1440" y2="1373.25" stroke="#767676" stroke-width="2"/>
<line x1="1428" y1="1423.58" x2="1440" y2="1423.58" stroke="#767676" stroke-width="2"/>
<line x1="1428" y1="1473.91" x2="1440" y2="1473.91" stroke="#767676" stroke-width="2"/>
<line x1="1428" y1="1524.24" x2="1440" y2="1524.24" stroke="#767676" stroke-width="2"/>
<line x1="1428" y1="1574.57" x2="1440" y2="1574.57" stroke="#767676" stroke-width="2"/>
<line x1="1428" y1="1624.9" x2="1440" y2="1624.9" stroke="#767676" stroke-width="2"/>
<line x1="1428" y1="1675.23" x2="1440" y2="1675.23" stroke="#767676" stroke-width="2"/>
<line x1="1428" y1="1725.56" x2="1440" y2="1725.56" stroke="#767676" stroke-width="2"/>
<line x1="1428" y1="1775.89" x2="1440" y2="1775.89" stroke="#767676" stroke-width="2"/>
<line x1="1428" y1="1826.22" x2="1440" y2="1826.22" stroke="#767676" stroke-width="2"/>
<line x1="1428" y1="1876.55" x2="1440" y2="1876.55" stroke="#767676" stroke-width="2"/>
<line x1="1428" y1="1926.88" x2="1440" y2="1926.88" stroke="#767676" stroke-width="2"/>
<line x1="1428" y1="1977.21" x2="1440" y2="1977.21" stroke="#767676" stroke-width="2"/>
<g font-family='"Liberation Sans", Arial, sans-serif' fill="#1e1e1e" stroke="#1e1e1e" stroke-width="0.35">
<text transform="translate(1428.5,83.8) rotate(90) scale(0.86,1)" text-anchor="end" font-size="29.5">-3</text>
<text transform="translate(1468.3,83.8) rotate(90) scale(0.86,1)" text-anchor="end" font-size="29.5">-2</text>
<text transform="translate(1508.1,83.8) rotate(90) scale(0.86,1)" text-anchor="end" font-size="29.5">-1</text>
<text transform="translate(1547.9,83.8) rotate(90) scale(0.86,1)" text-anchor="end" font-size="29.5">0</text>
<text transform="translate(1587.7,83.8) rotate(90) scale(0.86,1)" text-anchor="end" font-size="29.5">1</text>
<text transform="translate(1627.5,83.8) rotate(90) scale(0.86,1)" text-anchor="end" font-size="29.5">2</text>
<text transform="translate(1667.3,83.8) rotate(90) scale(0.86,1)" text-anchor="end" font-size="29.5">3</text>
<text transform="translate(1707.1,83.8) rotate(90) scale(0.86,1)" text-anchor="end" font-size="29.5">4</text>
<text x="1564" y="51.3" font-size="26" textLength="71.6" lengthAdjust="spacingAndGlyphs">VIP[2]</text>
<text x="1387.5" y="127.4" font-size="28.5" textLength="34.66" lengthAdjust="spacingAndGlyphs">Hb</text>
<text x="1387.5" y="177.73" font-size="28.5" textLength="34.68" lengthAdjust="spacingAndGlyphs">CA</text>
<text x="1234.4" y="225.66" font-size="31.3" textLength="187.78" lengthAdjust="spacingAndGlyphs">Cystathionine</text>
<text x="1371.9" y="278.39" font-size="28.5" textLength="50.31" lengthAdjust="spacingAndGlyphs">HCT</text>
<text x="1319" y="328.72" font-size="28.5" textLength="103.18" lengthAdjust="spacingAndGlyphs">Arginine</text>
<text x="1296.5" y="379.05" font-size="28.5" textLength="125.64" lengthAdjust="spacingAndGlyphs">Glutamine</text>
<text x="1363.6" y="429.38" font-size="28.5" textLength="58.55" lengthAdjust="spacingAndGlyphs">WBC</text>
<text x="1344.1" y="479.71" font-size="28.5" textLength="78.13" lengthAdjust="spacingAndGlyphs">Ser/Tp</text>
<text x="1303.5" y="530.04" font-size="28.5" textLength="118.73" lengthAdjust="spacingAndGlyphs">Serotonin</text>
<text x="1337.8" y="580.37" font-size="28.5" textLength="84.34" lengthAdjust="spacingAndGlyphs">Proline</text>
<text x="1256.1" y="630.7" font-size="28.5" textLength="166.04" lengthAdjust="spacingAndGlyphs">Glutamic acid</text>
<text x="1313.3" y="681.03" font-size="28.5" textLength="108.91" lengthAdjust="spacingAndGlyphs">Citrulline</text>
<text x="1407.6" y="731.36" font-size="28.5" textLength="14.64" lengthAdjust="spacingAndGlyphs">B</text>
<text x="1402.8" y="781.69" font-size="28.5" textLength="19.46" lengthAdjust="spacingAndGlyphs">N</text>
<text x="1299.3" y="832.02" font-size="28.5" textLength="122.85" lengthAdjust="spacingAndGlyphs">Threonine</text>
<text x="1370.9" y="882.35" font-size="28.5" textLength="51.31" lengthAdjust="spacingAndGlyphs">LDH</text>
<text x="1376.2" y="932.68" font-size="28.5" textLength="45.89" lengthAdjust="spacingAndGlyphs">LCA</text>
<text x="1316" y="983.01" font-size="28.5" textLength="106.25" lengthAdjust="spacingAndGlyphs">Anserine</text>
<text x="1398.1" y="1033.34" font-size="28.5" textLength="24.04" lengthAdjust="spacingAndGlyphs">M</text>
<text x="1374.1" y="1083.67" font-size="28.5" textLength="47.98" lengthAdjust="spacingAndGlyphs">TCA</text>
<text x="1331.1" y="1134" font-size="28.5" textLength="91.13" lengthAdjust="spacingAndGlyphs">Alanine</text>
<text x="1355.8" y="1184.33" font-size="28.5" textLength="66.36" lengthAdjust="spacingAndGlyphs">BCCA</text>
<text x="1361.5" y="1234.66" font-size="28.5" textLength="60.61" lengthAdjust="spacingAndGlyphs">TLCA</text>
<text x="1242.1" y="1284.99" font-size="28.5" textLength="180.12" lengthAdjust="spacingAndGlyphs">Homocitrulline</text>
<text x="1351" y="1335.32" font-size="28.5" textLength="71.16" lengthAdjust="spacingAndGlyphs">CDCA</text>
<text x="1225.9" y="1385.65" font-size="28.5" textLength="196.26" lengthAdjust="spacingAndGlyphs">5-Hydroxylysine</text>
<text x="1330.1" y="1435.98" font-size="28.5" textLength="92.05" lengthAdjust="spacingAndGlyphs">Leucine</text>
<text x="1321.7" y="1486.31" font-size="28.5" textLength="100.49" lengthAdjust="spacingAndGlyphs">Tyrosine</text>
<text x="1137.9" y="1536.64" font-size="28.5" textLength="284.3" lengthAdjust="spacingAndGlyphs">Trans-4-hydroxyproline</text>
<text x="1365.7" y="1586.97" font-size="28.5" textLength="56.44" lengthAdjust="spacingAndGlyphs">Urea</text>
<text x="1345.4" y="1637.3" font-size="28.5" textLength="76.78" lengthAdjust="spacingAndGlyphs">SDMA</text>
<text x="1349.5" y="1687.63" font-size="28.5" textLength="72.66" lengthAdjust="spacingAndGlyphs">UDCA</text>
<text x="1333.2" y="1737.96" font-size="28.5" textLength="88.99" lengthAdjust="spacingAndGlyphs">Glycine</text>
<text x="1298" y="1788.29" font-size="28.5" textLength="124.15" lengthAdjust="spacingAndGlyphs">Creatinine</text>
<text x="1330.1" y="1838.62" font-size="28.5" textLength="92.13" lengthAdjust="spacingAndGlyphs">Phe/Tyr</text>
<text x="1410.7" y="1888.95" font-size="28.5" textLength="11.52" lengthAdjust="spacingAndGlyphs">L</text>
<text x="1301.1" y="1939.28" font-size="28.5" textLength="121.05" lengthAdjust="spacingAndGlyphs">Isoleucine</text>
<text x="1356" y="1989.61" font-size="28.5" textLength="66.16" lengthAdjust="spacingAndGlyphs">GLCA</text>
</g>
</g>
<g font-family='"Liberation Sans", Arial, sans-serif' font-weight="bold" font-size="43" fill="#000">
<text x="2" y="34.2">A</text>
<text x="2" y="926.4">B</text>
<text x="1198.5" y="33">C</text>
</g>
</svg>
</body></html>
